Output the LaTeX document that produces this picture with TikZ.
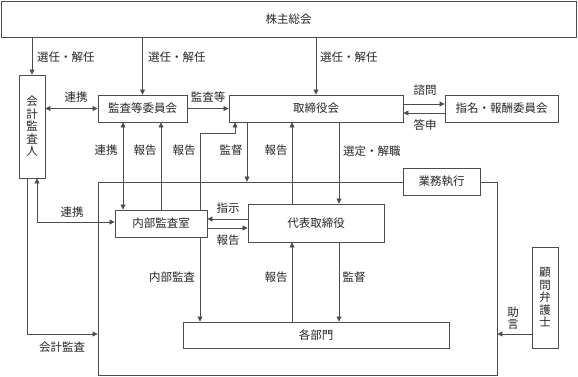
\documentclass[tikz,border=0pt]{standalone}
\usepackage{fontspec}
\setmainfont{Noto Sans CJK JP}
\usetikzlibrary{arrows.meta}
\begin{document}
\begin{tikzpicture}[x=1pt,y=-1pt,
  every node/.style={font=\fontsize{11.5}{12.5}\selectfont, text=black!85, inner sep=0pt},
  box/.style={draw=black!70, line width=0.9pt, fill=white},
  ln/.style={draw=black!70, line width=0.8pt},
  arr/.style={ln, -{Triangle[length=5pt,width=5pt]}},
  darr/.style={ln, {Triangle[length=5pt,width=5pt]}-{Triangle[length=5pt,width=5pt]}},
  lbl/.style={fill=none}
]
\useasboundingbox (0,0) rectangle (578,377);
% frame
\node[box, minimum width=399, minimum height=193] (frame) at (297.5,278.5) {};
% boxes
\node[box, minimum width=575, minimum height=36] (sh) at (288.5,19) {株主総会};
\node[box, minimum width=26, minimum height=103, align=center] (kaikei) at (32,126.5) {会\\計\\監\\査\\人};
\node[box, minimum width=89, minimum height=27] (kansa) at (142.5,108.5) {監査等委員会};
\node[box, minimum width=174, minimum height=27] (tori) at (316,108.5) {取締役会};
\node[box, minimum width=113, minimum height=27] (shimei) at (501.5,108.5) {指名・報酬委員会};
\node[box, minimum width=77, minimum height=27] (gyomu) at (441.5,181.5) {業務執行};
\node[box, minimum width=92, minimum height=27] (naibu) at (161,223.5) {内部監査室};
\node[box, minimum width=136, minimum height=38] (daihyo) at (316,223) {代表取締役};
\node[box, minimum width=266, minimum height=26] (kakubu) at (316,335) {各部門};
\node[box, minimum width=26, minimum height=101, align=center] (komon) at (545,297.5) {顧\\問\\弁\\護\\士};
% connectors from shareholders
\draw[arr] (sh.south -| kaikei.north) -- (kaikei.north);
\draw[arr] (sh.south -| kansa.north) -- (kansa.north);
\draw[arr] (sh.south -| tori.north) -- (tori.north);
\node[anchor=west] (l1) at (37,57) {選任・解任};
\node[anchor=west] (l2) at (148,57) {選任・解任};
\node[anchor=west] (l3) at (320,57) {選任・解任};
% row 2
\draw[darr] (kaikei.east |- kansa.west) -- (kansa.west);
\node (l4) at (76,97) {連携};
\draw[arr] (kansa.east) -- (tori.west |- kansa.east);
\node (l5) at (208,97) {監査等};
\draw[arr] (tori.east |- 0,104) -- (shimei.west |- 0,104);
\draw[arr] (shimei.west |- 0,113) -- (tori.east |- 0,113);
\node (l6) at (425,90) {諮問};
\node (l7) at (425,125) {答申};
% verticals between rows
\draw[darr] (kansa.south -| 123,0) -- (naibu.north -| 123,0);
\node (l8) at (106,150) {連携};
\draw[arr] (naibu.north -| 161,0) -- (kansa.south -| 161,0);
\node (l9) at (145,150) {報告};
\draw[arr] (naibu.north -| 200,0) |- (235,133) -- (tori.south -| 235,0);
\node (l10) at (184,150) {報告};
\draw[arr] (tori.south -| 247,0) -- (frame.north -| 247,0);
\node (l11) at (231,150) {監督};
\draw[arr] (daihyo.north -| 292,0) -- (tori.south -| 292,0);
\node (l12) at (276,150) {報告};
\draw[arr] (tori.south -| 339,0) -- (daihyo.north -| 339,0);
\node[anchor=west] (l13) at (343,151) {選定・解職};
% inner
\draw[darr] (kaikei.south -| 37,0) |- (naibu.west |- 0,222);
\node (l14) at (72,212) {連携};
\draw[arr] (daihyo.west |- 0,219) -- (naibu.east |- 0,219);
\node (l15) at (228,208) {指示};
\draw[arr] (naibu.east |- 0,228) -- (daihyo.west |- 0,228);
\node (l16) at (228,240) {報告};
\draw[arr] (kaikei.south -| 27,0) |- (frame.west |- 0,334);
\node (l17) at (62,347) {会計監査};
\draw[arr] (naibu.south -| 200,0) -- (kakubu.north -| 200,0);
\node (l18) at (172,277) {内部監査};
\draw[arr] (kakubu.north -| 292,0) -- (daihyo.south -| 292,0);
\node (l19) at (276,277) {報告};
\draw[arr] (daihyo.south -| 339,0) -- (kakubu.north -| 339,0);
\node (l20) at (354,277) {監督};
\draw[arr] (komon.west |- 0,334) -- (frame.east |- 0,334);
\node[align=center] (l21) at (513,318) {助\\言};
\end{tikzpicture}
\end{document}
